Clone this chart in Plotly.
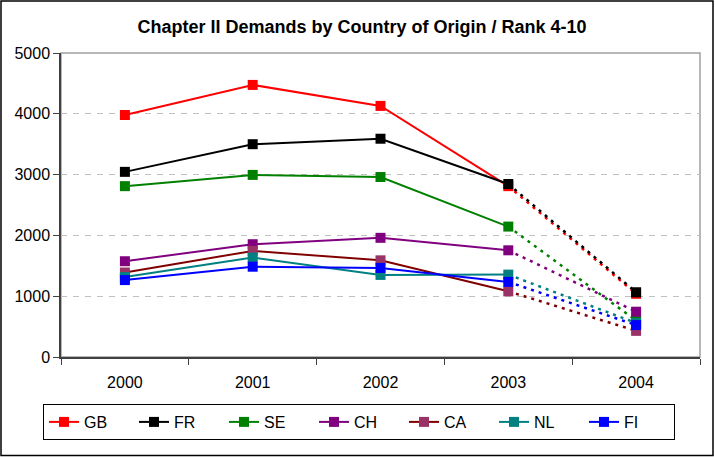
import plotly.graph_objects as go

# categories and values
years = ["2000", "2001", "2002", "2003", "2004"]
countries = ["GB", "FR", "SE", "CH", "CA", "NL", "FI"]
gb = [3980, 4475, 4130, 2810, 1040]
fr = [3045, 3500, 3590, 2845, 1065]
se = [2810, 2995, 2960, 2145, 600]
ch = [1575, 1855, 1960, 1755, 745]
ca = [1390, 1745, 1590, 1080, 430]
nl = [1315, 1635, 1350, 1355, 560]
fi = [1265, 1485, 1465, 1235, 525]

series = [gb, fr, se, ch, ca, nl, fi]
line_colors = ["#FF0000", "#000000", "#008000", "#800080", "#800000", "#008080", "#0000FF"]
marker_colors = ["#FF0000", "#000000", "#008000", "#800080", "#993366", "#008080", "#0000FF"]

fig = go.Figure()

# solid part 2000-2003, dotted projection 2003-2004
for name, vals, lc, mc in zip(countries, series, line_colors, marker_colors):
    fig.add_trace(go.Scatter(
        x=years[3:], y=vals[3:], mode="lines", legendgroup=name, showlegend=False,
        line=dict(color=lc, width=2.5, dash="3px,5px"), hoverinfo="skip"))

for name, vals, lc, mc in zip(countries, series, line_colors, marker_colors):
    fig.add_trace(go.Scatter(
        x=years[:4], y=vals[:4], mode="lines+markers", name=name, legendgroup=name,
        line=dict(color=lc, width=2),
        marker=dict(symbol="square", size=10, color=mc, line=dict(width=0))))

for name, vals, lc, mc in zip(countries, series, line_colors, marker_colors):
    fig.add_trace(go.Scatter(
        x=years[4:], y=vals[4:], mode="markers", legendgroup=name, showlegend=False,
        marker=dict(symbol="square", size=10, color=mc, line=dict(width=0))))

W, H = 715, 457
L, R, T, B = 61, 15, 53, 100
pw, ph = W - L - R, H - T - B

fig.update_layout(
    width=W, height=H,
    margin=dict(l=L, r=R, t=T, b=B),
    paper_bgcolor="white", plot_bgcolor="white",
    font=dict(family="Arial, Liberation Sans, sans-serif", size=16, color="black"),
    title=dict(text="<b>Chapter II Demands by Country of Origin / Rank 4-10</b>",
               x=362 / W, xanchor="center", y=1 - 27 / H, yanchor="middle",
               font=dict(size=18)),
    showlegend=True,
    legend=dict(orientation="h", x=(359 - L) / pw, xanchor="center",
                y=-(404 - 357) / ph, yanchor="top",
                bordercolor="black", borderwidth=1, bgcolor="white",
                entrywidth=45, font=dict(size=16), traceorder="normal"),
    xaxis=dict(type="category", categoryorder="array", categoryarray=years,
               range=[-0.5, 4.5], showline=True, linecolor="#404040",
               linewidth=1.5, ticks="outside", tickson="boundaries", ticklen=6,
               tickcolor="#404040", showgrid=False, zeroline=False,
               ticklabelstandoff=10),
    yaxis=dict(range=[0, 5000], dtick=1000, showline=True, linecolor="#404040",
               linewidth=1.5, ticks="outside", ticklen=6, tickcolor="#404040",
               showgrid=True, gridcolor="#C0C0C0", griddash="6px,6px", gridwidth=1,
               zeroline=False),
    shapes=[
        dict(type="rect", xref="paper", yref="paper", x0=0, x1=1, y0=0, y1=1,
             line=dict(color="#A0A0A0", width=1.5), layer="below"),
        dict(type="rect", xref="paper", yref="paper",
             x0=-(L - 1) / pw, x1=(W - L - 2) / pw,
             y0=-(H - T - ph - 1.5) / ph, y1=1 + (T - 1) / ph,
             line=dict(color="black", width=1.5)),
    ],
)

# drop the browser's default 8px body margin so the chart sits at the page corner
fig.write_html("out.html", config={"displayModeBar": False},
               post_script="document.body.style.margin='0';")
